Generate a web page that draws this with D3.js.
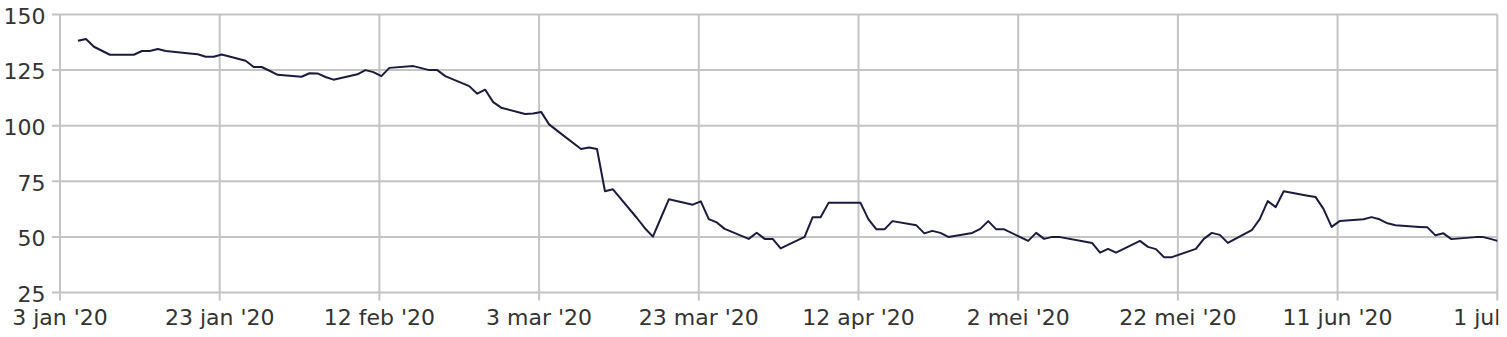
<!DOCTYPE html>
<html>
<head>
<meta charset="utf-8">
<script src="https://cdn.jsdelivr.net/npm/d3@7"></script>
<style>
html, body { margin: 0; padding: 0; background: #fff; }
svg { display: block; }
</style>
</head>
<body>
<script>
// ---- data ----
const dates = [
 "2020-01-06","2020-01-07","2020-01-08","2020-01-09","2020-01-10",
 "2020-01-13","2020-01-14","2020-01-15","2020-01-16","2020-01-17",
 "2020-01-20","2020-01-21","2020-01-22","2020-01-23","2020-01-24",
 "2020-01-27","2020-01-28","2020-01-29","2020-01-30","2020-01-31",
 "2020-02-03","2020-02-04","2020-02-05","2020-02-06","2020-02-07",
 "2020-02-10","2020-02-11","2020-02-12","2020-02-13","2020-02-14",
 "2020-02-17","2020-02-18","2020-02-19","2020-02-20","2020-02-21",
 "2020-02-24","2020-02-25","2020-02-26","2020-02-27","2020-02-28",
 "2020-03-02","2020-03-03","2020-03-04","2020-03-05","2020-03-06",
 "2020-03-09","2020-03-10","2020-03-11","2020-03-12","2020-03-13",
 "2020-03-16","2020-03-17","2020-03-18","2020-03-19","2020-03-20",
 "2020-03-23","2020-03-24","2020-03-25","2020-03-26","2020-03-27",
 "2020-03-30","2020-03-31","2020-04-01","2020-04-02","2020-04-03",
 "2020-04-06","2020-04-07","2020-04-08","2020-04-09","2020-04-10",
 "2020-04-13","2020-04-14","2020-04-15","2020-04-16","2020-04-17",
 "2020-04-20","2020-04-21","2020-04-22","2020-04-23","2020-04-24",
 "2020-04-27","2020-04-28","2020-04-29","2020-04-30","2020-05-01",
 "2020-05-04","2020-05-05","2020-05-06","2020-05-07","2020-05-08",
 "2020-05-11","2020-05-12","2020-05-13","2020-05-14","2020-05-15",
 "2020-05-18","2020-05-19","2020-05-20","2020-05-21","2020-05-22",
 "2020-05-25","2020-05-26","2020-05-27","2020-05-28","2020-05-29",
 "2020-06-01","2020-06-02","2020-06-03","2020-06-04","2020-06-05",
 "2020-06-08","2020-06-09","2020-06-10","2020-06-11","2020-06-12",
 "2020-06-15","2020-06-16","2020-06-17","2020-06-18","2020-06-19",
 "2020-06-22","2020-06-23","2020-06-24","2020-06-25","2020-06-26",
 "2020-06-29","2020-06-30","2020-07-01","2020-07-02"
];
const values = [
 138.2,139.0,135.5,133.7,131.9,
 131.9,133.6,133.6,134.5,133.6,
 132.5,132.1,131.0,131.0,132.0,
 129.2,126.4,126.4,124.7,122.9,
 122.0,123.6,123.5,121.9,120.7,
 123.1,125.0,124.1,122.3,126.0,
 126.8,125.9,125.0,125.0,122.3,
 117.8,114.4,116.2,110.6,108.1,
 105.3,105.5,106.2,100.6,97.8,
 89.5,90.2,89.5,70.5,71.4,
 58.5,53.9,50.1,58.5,66.9,
 64.5,66.0,58.0,56.5,53.6,
 49.1,51.9,49.1,49.1,44.8,
 50.0,58.8,58.8,65.3,65.3,
 65.3,57.9,53.4,53.4,57.1,
 55.2,51.6,52.7,51.8,50.0,
 51.8,53.6,57.1,53.4,53.4,
 48.2,51.8,49.1,50.0,49.9,
 47.9,47.3,42.9,44.6,42.9,
 48.2,45.5,44.5,40.9,40.9,
 44.6,49.1,51.8,50.9,47.3,
 53.0,58.0,66.1,63.4,70.5,
 68.5,67.9,62.5,54.5,57.1,
 57.9,58.9,57.9,56.1,55.2,
 54.5,54.3,50.7,51.6,49.0,
 49.9,49.9,49.0,48.0
];
const yTicks = [25, 50, 75, 100, 125, 150];
const xTickLabels = ["3 jan '20","23 jan '20","12 feb '20","3 mar '20","23 mar '20",
                     "12 apr '20","2 mei '20","22 mei '20","11 jun '20","1 jul '20"];

// ---- layout ----
const W = 1507, H = 337;
const mLeft = 60, mRight = 1497.3, mTop = 14.5, mBottom = 292.5;
const font = "'DejaVu Sans', Verdana, sans-serif";
const fontSize = 22;
const textColor = "#333333";
const gridColor = "#c4c4c4";

const parse = d3.timeParse("%Y-%m-%d");
const data = dates.map((d, i) => ({ date: parse(d), value: values[i] }));

const tickStart = new Date(2020, 0, 3, 18);
const tickDates = xTickLabels.map((_, i) => d3.timeDay.offset(tickStart, 20 * i));

const x = d3.scaleTime().domain([tickDates[0], tickDates[tickDates.length - 1]]).range([mLeft, mRight]);
const y = d3.scaleLinear().domain([25, 150]).range([mBottom, mTop]);

const svg = d3.select("body").append("svg").attr("width", W).attr("height", H);

const defs = svg.append("defs");
defs.append("clipPath").attr("id", "plot")
  .append("rect").attr("x", mLeft).attr("y", 0).attr("width", mRight - mLeft).attr("height", H);
defs.append("clipPath").attr("id", "labels")
  .append("rect").attr("x", 0).attr("y", 0).attr("width", 1498.5).attr("height", H);

// horizontal grid + y ticks
const gy = svg.append("g");
gy.selectAll("line").data(yTicks).join("line")
  .attr("x1", mLeft - 8).attr("x2", mRight)
  .attr("y1", d => y(d)).attr("y2", d => y(d))
  .attr("stroke", gridColor).attr("stroke-width", 2);
gy.selectAll("text").data(yTicks).join("text")
  .attr("x", mLeft - 14.5).attr("y", d => y(d))
  .attr("dy", "0.42em")
  .attr("text-anchor", "end")
  .attr("font-family", font).attr("font-size", fontSize).attr("fill", textColor)
  .text(d => d);

// vertical grid + x ticks
const gx = svg.append("g");
gx.selectAll("line").data(tickDates).join("line")
  .attr("x1", d => x(d)).attr("x2", d => x(d))
  .attr("y1", mTop).attr("y2", mBottom + 8)
  .attr("stroke", gridColor).attr("stroke-width", 2);
gx.append("g").attr("clip-path", "url(#labels)")
  .selectAll("text").data(tickDates).join("text")
  .attr("x", d => x(d)).attr("y", 324.5)
  .attr("text-anchor", "middle")
  .attr("font-family", font).attr("font-size", fontSize).attr("fill", textColor)
  .text((d, i) => xTickLabels[i]);

// line
const line = d3.line().x(d => x(d.date)).y(d => y(d.value));
svg.append("path").datum(data)
  .attr("clip-path", "url(#plot)")
  .attr("d", line)
  .attr("fill", "none")
  .attr("stroke", "#1b1b3d")
  .attr("stroke-width", 2)
  .attr("stroke-linejoin", "round");
</script>
</body>
</html>
